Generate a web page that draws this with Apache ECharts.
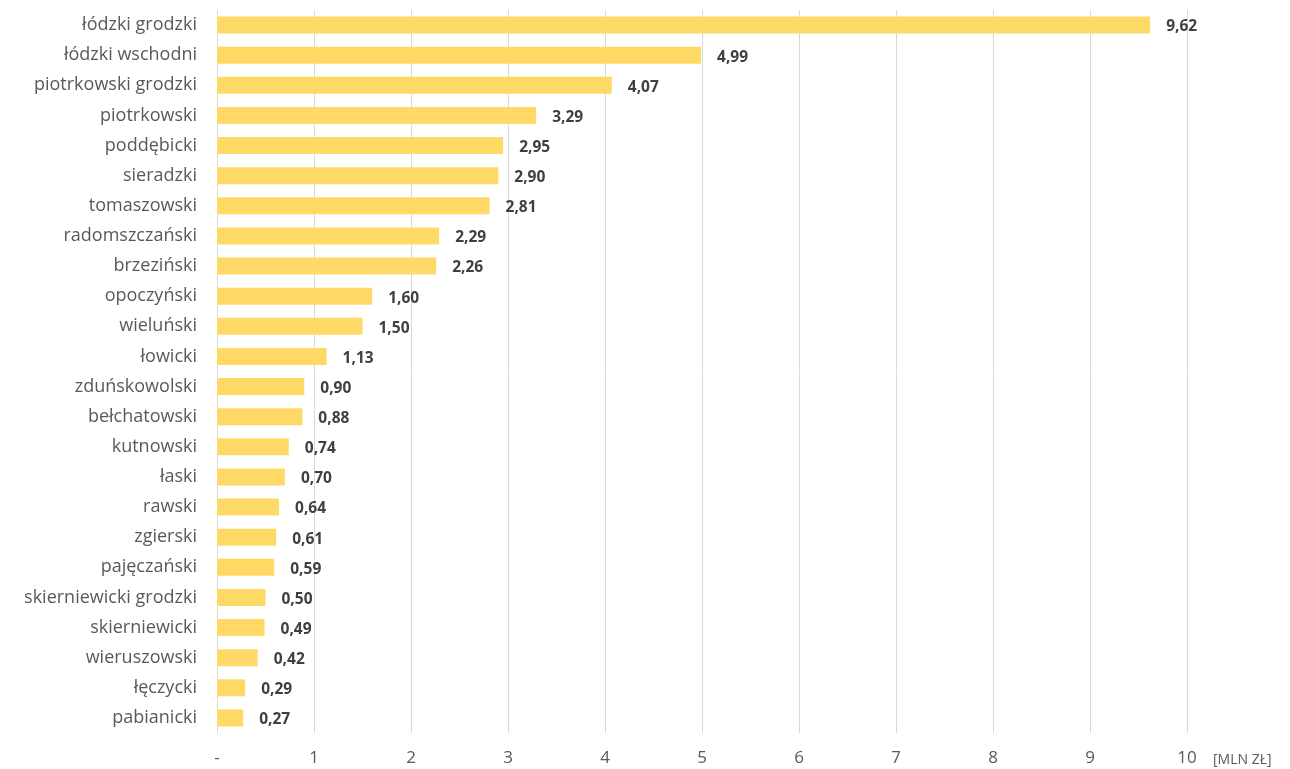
<!DOCTYPE html>
<html>
<head>
<meta charset="utf-8">
<script src="https://cdn.jsdelivr.net/npm/echarts@6/dist/echarts.min.js"></script>
<style>
  html, body { margin: 0; padding: 0; background: #fff; }
  #chart { width: 1290px; height: 769px; }
</style>
</head>
<body>
<div id="chart"></div>
<script>
const powiaty = [
  "łódzki grodzki", "łódzki wschodni", "piotrkowski grodzki", "piotrkowski",
  "poddębicki", "sieradzki", "tomaszowski", "radomszczański", "brzeziński",
  "opoczyński", "wieluński", "łowicki", "zduńskowolski", "bełchatowski",
  "kutnowski", "łaski", "rawski", "zgierski", "pajęczański",
  "skierniewicki grodzki", "skierniewicki", "wieruszowski", "łęczycki", "pabianicki"
];
const wartosci = [
  9.62, 4.99, 4.07, 3.29, 2.95, 2.90, 2.81, 2.29, 2.26, 1.60, 1.50, 1.13,
  0.90, 0.88, 0.74, 0.70, 0.64, 0.61, 0.59, 0.50, 0.49, 0.42, 0.29, 0.27
];
const jednostka = "[MLN ZŁ]";

const chart = echarts.init(document.getElementById("chart"));
const font = "'Open Sans', sans-serif";

const option = {
  animation: false,
  grid: { left: 217, right: 103, top: 10, bottom: 36 },
  xAxis: {
    type: "value",
    min: 0,
    max: 10,
    interval: 1,
    axisLine: { show: false },
    axisTick: { show: false },
    axisLabel: {
      margin: 17,
      color: "#595959",
      fontSize: 17,
      fontFamily: font,
      formatter: (v) => (v === 0 ? "-" : String(v)),
    },
    splitLine: { show: true, lineStyle: { color: "#d9d9d9", width: 1 } },
  },
  yAxis: {
    type: "category",
    inverse: true,
    data: powiaty,
    axisLine: { show: false },
    axisTick: { show: false },
    axisLabel: {
      margin: 20,
      color: "#595959",
      fontSize: 18,
      fontFamily: font,
    },
  },
  series: [
    {
      type: "bar",
      data: wartosci,
      barWidth: 17,
      itemStyle: { color: "#FFD966" },
      label: {
        show: true,
        position: "right",
        distance: 16,
        offset: [0, 2],
        color: "#404040",
        fontSize: 15.5,
        fontWeight: "bold",
        fontFamily: font,
        formatter: (p) => p.value.toFixed(2).replace(".", ","),
      },
    },
  ],
  graphic: [
    {
      type: "text",
      left: 1213,
      top: 753,
      style: {
        text: jednostka,
        fill: "#595959",
        fontSize: 14,
        fontFamily: font,
      },
    },
  ],
};

chart.setOption(option);
</script>
</body>
</html>
